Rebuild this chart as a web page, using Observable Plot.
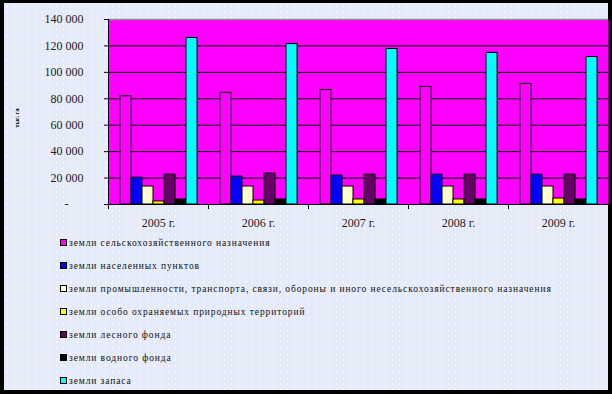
<!DOCTYPE html>
<html>
<head>
<meta charset="utf-8">
<script src="https://cdn.jsdelivr.net/npm/d3@7"></script>
<script src="https://cdn.jsdelivr.net/npm/@observablehq/plot@0.6"></script>
<style>
  html, body { margin: 0; padding: 0; background: #000; }
  #wrap { position: relative; width: 612px; height: 394px; background: #000; overflow: hidden; }
  #panel { position: absolute; left: 4px; top: 3px; width: 604px; height: 387px; background-color: #e5ebf9;
    background-image: radial-gradient(circle, rgba(255,255,255,0.85) 0.6px, rgba(255,255,255,0) 0.9px);
    background-size: 7px 6px; }
  #chart { position: absolute; left: 0; top: 0; }
  #ylabel { position: absolute; left: 17px; top: 118px; transform: translate(-50%, -50%) rotate(-90deg);
    font: bold 6px "Liberation Serif", serif; color: #000; white-space: nowrap; }
  #legend { position: absolute; left: 60px; top: 231px; font-family: "Liberation Serif", serif;
    font-size: 9.5px; letter-spacing: 0.9px; color: #111; }
  .row { height: 23px; display: flex; align-items: center; white-space: nowrap; }
  .sw { width: 5px; height: 5px; border: 1px solid #000; margin-right: 2px; flex: none; }
</style>
</head>
<body>
<div id="wrap">
  <div id="panel"></div>
  <div id="chart"></div>
  <div id="ylabel">тыс. га</div>
  <div id="legend"></div>
</div>
<script>
// ---- data ----
const years = ["2005 г.", "2006 г.", "2007 г.", "2008 г.", "2009 г."];
const seriesNames = [
  "земли сельскохозяйственного назначения",
  "земли населенных пунктов",
  "земли промышленности, транспорта, связи, обороны и иного несельскохозяйственного назначения",
  "земли особо охраняемых природных территорий",
  "земли лесного фонда",
  "земли водного фонда",
  "земли запаса"
];
const seriesColors = ["#ff00ff", "#0000ff", "#ffffcc", "#ffff00", "#660066", "#000000", "#00ffff"];
const agricultural   = [81900, 84500, 86700, 89000, 91300];
const settlements    = [20300, 21100, 21900, 22600, 22600];
const industry       = [13600, 13600, 13600, 13600, 13600];
const protectedAreas = [2300, 3000, 3800, 3800, 4500];
const forest         = [22600, 23400, 22600, 22600, 22600];
const water          = [3800, 3800, 3800, 3800, 3800];
const reserve        = [126000, 121400, 117700, 114700, 111600];
const yTicks = [0, 20000, 40000, 60000, 80000, 100000, 120000, 140000];
const yTickLabels = ["-", "20 000", "40 000", "60 000", "80 000", "100 000", "120 000", "140 000"];

const seriesValues = [agricultural, settlements, industry, protectedAreas, forest, water, reserve];
const data = [];
years.forEach((yr, i) => seriesNames.forEach((s, j) => data.push({year: yr, series: s, value: seriesValues[j][i]})));

const W = 612, ML = 108, MR = 4;
const half = (W - ML - MR) / years.length / 2;

const chart = Plot.plot({
  width: W, height: 235,
  marginLeft: ML, marginRight: MR, marginTop: 19, marginBottom: 31,
  style: {background: "transparent", fontFamily: "'Liberation Serif', serif", fontSize: "12px", color: "#222", overflow: "visible"},
  fx: {domain: years, padding: 0, label: null, axis: null},
  x: {domain: seriesNames, paddingInner: 0, paddingOuter: 0.77, axis: null},
  y: {domain: [0, 140000], axis: null},
  color: {domain: seriesNames, range: seriesColors},
  marks: [
    Plot.frame({fill: "#ff00ff", stroke: null, facet: "super"}),
    Plot.gridY(yTicks.slice(1, -1), {stroke: "#000", strokeOpacity: 1, strokeWidth: 1}),
    Plot.ruleY([yTicks[yTicks.length - 1]], {stroke: "#8a8a8a", strokeWidth: 1.5}),
    Plot.barY(data, {fx: "year", x: "series", y: "value", fill: "series", stroke: "#000", strokeWidth: 1}),
    Plot.ruleY([0], {stroke: "#000", strokeWidth: 1}),
    Plot.frame({anchor: "left", stroke: "#000", strokeWidth: 1, facet: "super"}),
    Plot.axisY(yTicks, {
      anchor: "left", tickSize: 4, tickPadding: 21, stroke: "#000",
      tickFormat: d => { const l = yTickLabels[yTicks.indexOf(d)]; return d === 0 ? l + "\u00a0\u00a0\u00a0\u00a0\u00a0" : l; },
      label: null, fontSize: 12
    }),
    Plot.axisFx({anchor: "bottom", tickSize: 0, tickPadding: 14, label: null, fontSize: 12}),
    Plot.axisFx({anchor: "bottom", tickSize: 5, tickFormat: () => "", label: null, dx: -half, stroke: "#000"}),
    Plot.axisFx([years[years.length - 1]], {anchor: "bottom", tickSize: 5, tickFormat: () => "", label: null, dx: half, stroke: "#000"})
  ]
});
document.getElementById("chart").appendChild(chart);

const legend = document.getElementById("legend");
seriesNames.forEach((s, j) => {
  const row = document.createElement("div");
  row.className = "row";
  const sw = document.createElement("span");
  sw.className = "sw";
  sw.style.background = seriesColors[j];
  const t = document.createElement("span");
  t.textContent = s;
  row.appendChild(sw); row.appendChild(t);
  legend.appendChild(row);
});
</script>
</body>
</html>
